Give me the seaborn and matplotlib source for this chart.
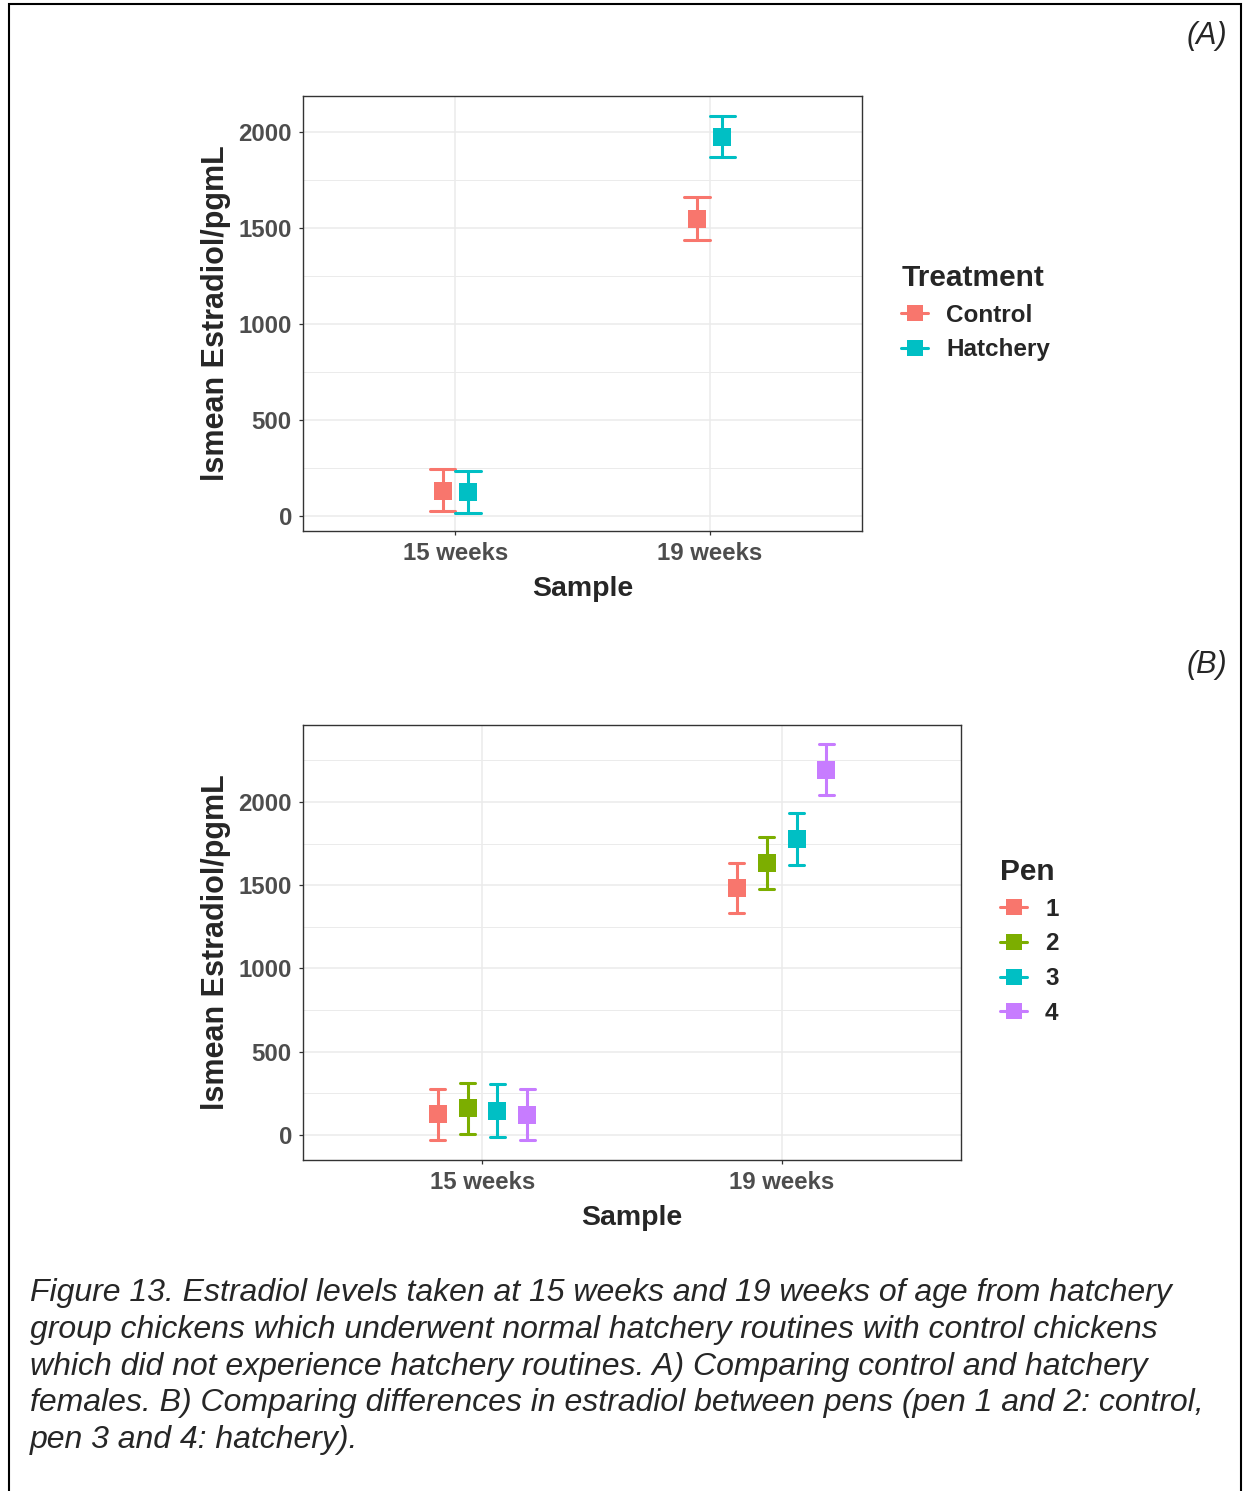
import numpy as np
import pandas as pd
import matplotlib.pyplot as plt
import seaborn as sns
from matplotlib.lines import Line2D
from matplotlib.patches import Rectangle
from matplotlib.ticker import MultipleLocator

sns.set_theme(style="whitegrid")
plt.rcParams["font.family"] = ["Liberation Sans", "DejaVu Sans"]

samples = ["15 weeks", "19 weeks"]

# panel A: treatment lsmeans with lower / upper limits (15 weeks, 19 weeks)
treatments = ["Control", "Hatchery"]
trt_mean = {"Control": [132, 1547], "Hatchery": [125, 1976]}
trt_lo = {"Control": [26, 1435], "Hatchery": [16, 1868]}
trt_hi = {"Control": [243, 1659], "Hatchery": [236, 2085]}

# panel B: pen lsmeans
pens = ["1", "2", "3", "4"]
pen_mean = {"1": [124, 1482], "2": [160, 1633], "3": [146, 1780], "4": [120, 2192]}
pen_lo = {"1": [-30, 1332], "2": [8, 1477], "3": [-12, 1622], "4": [-32, 2040]}
pen_hi = {"1": [276, 1635], "2": [310, 1792], "3": [305, 1932], "4": [274, 2347]}

caption = [
    "Figure 13. Estradiol levels taken at 15 weeks and 19 weeks of age from hatchery",
    "group chickens which underwent normal hatchery routines with control chickens",
    "which did not experience hatchery routines. A) Comparing control and hatchery",
    "females. B) Comparing differences in estradiol between pens (pen 1 and 2: control,",
    "pen 3 and 4: hatchery).",
]

hue_2 = ["#F8766D", "#00BFC4"]
hue_4 = ["#F8766D", "#7CAE00", "#00BFC4", "#C77CFF"]


def long_table(groups, mean, lo, hi, name):
    # three rows per point: lower, mean, upper -> median + full range interval
    rows = []
    for g in groups:
        for i, s in enumerate(samples):
            for v in (lo[g][i], mean[g][i], hi[g][i]):
                rows.append({"Sample": s, name: g, "value": v})
    return pd.DataFrame(rows)


def style_axes(ax, ylim):
    ax.set_xlim(-0.6, 1.6)
    ax.set_ylim(*ylim)
    ax.yaxis.set_major_locator(MultipleLocator(500))
    ax.yaxis.set_minor_locator(MultipleLocator(250))
    ax.grid(which="major", color="#EBEBEB", linewidth=1.1)
    ax.grid(which="minor", axis="y", color="#EBEBEB", linewidth=0.7)
    ax.set_axisbelow(True)
    for sp in ax.spines.values():
        sp.set_visible(True)
        sp.set_color("#333333")
        sp.set_linewidth(1.0)
    ax.tick_params(which="major", length=3, width=0.9, color="#333333",
                   labelsize=17.3, labelcolor="#4D4D4D", pad=5, left=True, bottom=True)
    ax.tick_params(which="minor", length=0)
    for lbl in ax.get_xticklabels() + ax.get_yticklabels():
        lbl.set_fontweight("bold")
    ax.set_ylabel("lsmean Estradiol/pgmL", fontsize=22, fontweight="bold", labelpad=5)
    ax.set_xlabel("Sample", fontsize=20.5, fontweight="bold", labelpad=8)


def add_legend(fig, title, labels, colors, x, y):
    handles = [Line2D([0], [0], color=c, marker="s", markersize=12,
                      markeredgewidth=0, linewidth=2.2) for c in colors]
    leg = fig.legend(handles, labels, title=title, loc="upper left",
                     bbox_to_anchor=(x, y), frameon=False, fontsize=17.5,
                     title_fontproperties={"size": 21.5, "weight": "bold"},
                     handlelength=1.1, handletextpad=0.75, labelspacing=0.48,
                     borderpad=0, alignment="left")
    for t in leg.get_texts():
        t.set_fontweight("bold")


W, H = 1248, 1491
fig = plt.figure(figsize=(W / 100, H / 100), dpi=100)

# ---- panel A ----
axA = fig.add_axes([303 / W, 1 - 531 / H, 559 / W, 435 / H])
dfA = long_table(treatments, trt_mean, trt_lo, trt_hi, "Treatment")
sns.pointplot(data=dfA, x="Sample", y="value", hue="Treatment", order=samples,
              hue_order=treatments, palette=hue_2, estimator="median",
              errorbar=("pi", 100), dodge=0.1, markers="s", linestyles="none",
              capsize=0.1, err_kws={"linewidth": 2.2}, markersize=13,
              markeredgewidth=0, legend=False, ax=axA)
style_axes(axA, (-78, 2187))
add_legend(fig, "Treatment", treatments, hue_2, 889 / W, 1 - 252 / H)

# ---- panel B ----
axB = fig.add_axes([303 / W, 1 - 1160 / H, 658 / W, 435 / H])
dfB = long_table(pens, pen_mean, pen_lo, pen_hi, "Pen")
sns.pointplot(data=dfB, x="Sample", y="value", hue="Pen", order=samples,
              hue_order=pens, palette=hue_4, estimator="median",
              errorbar=("pi", 100), dodge=0.3, markers="s", linestyles="none",
              capsize=0.05, err_kws={"linewidth": 2.2}, markersize=13,
              markeredgewidth=0, legend=False, ax=axB)
style_axes(axB, (-150, 2462))
add_legend(fig, "Pen", pens, hue_4, 988 / W, 1 - 846 / H)

# panel tags
fig.text(1227 / W, 1 - 36 / H, "(A)", fontsize=22, style="italic",
         ha="right", va="center")
fig.text(1227 / W, 1 - 665 / H, "(B)", fontsize=22, style="italic",
         ha="right", va="center")

# caption
for i, line in enumerate(caption):
    fig.text(30 / W, 1 - (1293 + i * 36.75) / H, line, fontsize=23,
             style="italic", ha="left", va="center")

# outer frame
fig.patches.append(Rectangle((9 / W, -0.01), 1232 / W, 1 - 4 / H + 0.01,
                             transform=fig.transFigure, fill=False,
                             edgecolor="black", linewidth=1.5))

fig.savefig("out.png", dpi=100)
